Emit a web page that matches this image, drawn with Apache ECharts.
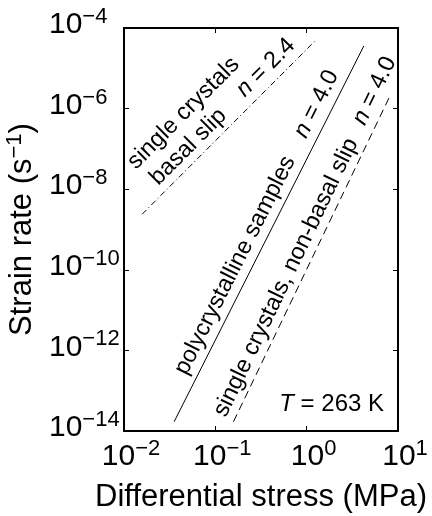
<!DOCTYPE html>
<html><head><meta charset="utf-8">
<script src="https://cdn.jsdelivr.net/npm/echarts@6/dist/echarts.min.js"></script>
<style>html,body{margin:0;padding:0;background:#fff}#c{width:432px;height:516px}</style>
</head><body><div id="c"></div>
<script>
const FONT = "'Liberation Sans', Arial, Helvetica, sans-serif";
// axis ranges (decades)
const xRange = [0.01, 10];
const yRange = [1e-14, 1e-4];
// line endpoints: differential stress (MPa) and strain rate (1/s)
const basalStress = [0.0158, 1.26];
const basalRate = [2.4e-9, 5.0e-5];
const polyStress = [0.0354, 4.23];
const polyRate = [1.7e-14, 3.6e-5];
const nonBasalStress = [0.158, 7.96];
const nonBasalRate = [1.7e-14, 1.83e-6];
// annotation texts
const lineLabels = [
  {series: 0, t: 0.11, d: 30, text: 'single crystals'},
  {series: 0, t: 0.127, d: 3, text: 'basal slip'},
  {series: 0, t: 0.63, d: 4, text: '{i|n} = 2.4'},
  {series: 1, t: 0.11, d: 4, text: 'polycrystalline samples'},
  {series: 1, t: 0.74, d: 4, text: '{i|n} = 4.0'},
  {series: 2, t: 0.0, d: 3, text: 'single crystals, non-basal slip'},
  {series: 2, t: 0.9, d: 4, text: '{i|n} = 4.0'}
];
const tempLabel = '{i|T} = 263 K';

const seriesDefs = [
  {x: basalStress, y: basalRate, dash: [6, 3, 1, 3]},
  {x: polyStress, y: polyRate, dash: 'solid'},
  {x: nonBasalStress, y: nonBasalRate, dash: [8, 5]}
];

function expLabel(v) {
  const e = Math.round(Math.log10(v));
  return '{b|10}{s|' + (e < 0 ? '\u2212' + (-e) : e) + '}';
}
const labelRich = {
  b: {fontSize: 30, fontFamily: FONT, color: '#000', verticalAlign: 'bottom', padding: [0, 0, 10, 0]},
  s: {fontSize: 22, fontFamily: FONT, color: '#000', verticalAlign: 'top', padding: [0, 0, 22, 0]}
};
const axisLineStyle = {show: true, lineStyle: {color: '#000', width: 2}};
const tickStyle = {show: true, inside: true, length: 5, lineStyle: {color: '#000', width: 1}};

const chart = echarts.init(document.getElementById('c'), null, {renderer: 'canvas'});
const option = {
  animation: false,
  backgroundColor: '#fff',
  grid: {left: 124, right: 34, top: 28, bottom: 85, containLabel: false, outerBoundsMode: 'none'},
  xAxis: [
    {type: 'log', logBase: 10, min: xRange[0], max: xRange[1], interval: 1, position: 'bottom',
     axisLine: axisLineStyle, axisTick: tickStyle, splitLine: {show: false}, minorTick: {show: false},
     axisLabel: {formatter: expLabel, rich: labelRich, margin: 7, padding: [0, 0, 0, 14]},
     name: 'Differential stress (MPa)', nameLocation: 'middle', nameGap: 51,
     nameTextStyle: {fontSize: 31, fontFamily: FONT, color: '#000'}},
    {type: 'log', logBase: 10, min: xRange[0], max: xRange[1], interval: 1, position: 'top',
     axisLine: axisLineStyle, axisTick: tickStyle, splitLine: {show: false}, axisLabel: {show: false}}
  ],
  yAxis: [
    {type: 'log', logBase: 10, min: yRange[0], max: yRange[1], interval: 2, position: 'left',
     axisLine: axisLineStyle, axisTick: tickStyle, splitLine: {show: false}, minorTick: {show: false},
     axisLabel: {formatter: expLabel, rich: labelRich, margin: 75, align: 'left'},
     name: '{a|Strain rate (s}{s|\u22121}{a|)}', nameLocation: 'middle', nameGap: 80, nameRotate: 90,
     nameTextStyle: {rich: {
       a: {fontSize: 31, fontFamily: FONT, color: '#000', verticalAlign: 'bottom', padding: [0, 0, 0, 0]},
       s: {fontSize: 22, fontFamily: FONT, color: '#000', verticalAlign: 'top', padding: [0, 0, 12, 0]}
     }}},
    {type: 'log', logBase: 10, min: yRange[0], max: yRange[1], interval: 2, position: 'right',
     axisLine: axisLineStyle, axisTick: tickStyle, splitLine: {show: false}, axisLabel: {show: false}}
  ],
  series: seriesDefs.map(s => ({
    type: 'line', xAxisIndex: 0, yAxisIndex: 0, symbol: 'none', silent: true,
    data: s.x.map((xv, i) => [xv, s.y[i]]),
    lineStyle: {color: '#000', width: 1, type: s.dash}
  }))
};
chart.setOption(option);

const IN_FS = 23.5;
const txtRich = {i: {fontStyle: 'italic', fontSize: IN_FS, fontFamily: FONT, color: '#000'}};
const graphics = lineLabels.map(L => {
  const s = seriesDefs[L.series];
  const p1 = chart.convertToPixel({xAxisIndex: 0, yAxisIndex: 0}, [s.x[0], s.y[0]]);
  const p2 = chart.convertToPixel({xAxisIndex: 0, yAxisIndex: 0}, [s.x[1], s.y[1]]);
  const dx = p2[0] - p1[0], dy = p2[1] - p1[1];
  const len = Math.hypot(dx, dy);
  const nx = dy / len, ny = -dx / len; // up-left normal
  const px = p1[0] + dx * L.t + nx * L.d;
  const py = p1[1] + dy * L.t + ny * L.d;
  return {
    type: 'text', x: px, y: py, rotation: Math.atan2(-dy, dx), silent: true,
    style: {text: L.text, fontSize: IN_FS, fontFamily: FONT, fill: '#000',
      align: 'left', verticalAlign: 'bottom', textAlign: 'left', textVerticalAlign: 'bottom', rich: txtRich}
  };
});
graphics.push({
  type: 'text', right: 48, bottom: 100, silent: true,
  style: {text: tempLabel, fontSize: 24, fontFamily: FONT, fill: '#000',
    rich: {i: {fontStyle: 'italic', fontSize: 24, fontFamily: FONT, color: '#000'}}}
});
chart.setOption({graphic: graphics});
</script></body></html>
